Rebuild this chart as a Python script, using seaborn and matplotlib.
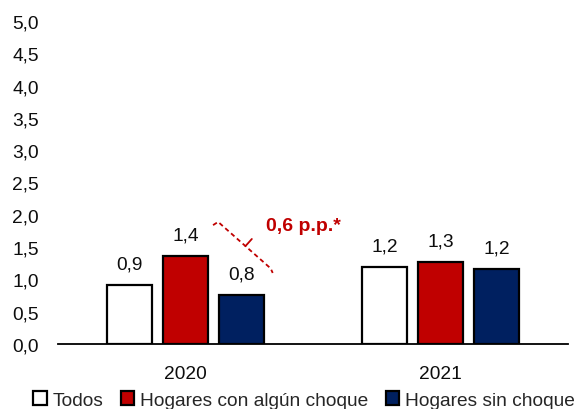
import matplotlib
matplotlib.use("Agg")
import matplotlib.pyplot as plt
import seaborn as sns
import pandas as pd

years = ["2020", "2021"]
groups = ["Todos", "Hogares con algún choque", "Hogares sin choque"]
todos = [0.91, 1.19]
con_choque = [1.36, 1.27]
sin_choque = [0.76, 1.16]
diff_label = "0,6 p.p.*"
yticks = [0.0, 0.5, 1.0, 1.5, 2.0, 2.5, 3.0, 3.5, 4.0, 4.5, 5.0]

rows = []
for g, vals in zip(groups, [todos, con_choque, sin_choque]):
    for y, v in zip(years, vals):
        rows.append({"Año": y, "Grupo": g, "Valor": v})
df = pd.DataFrame(rows)

sns.set_style("white")
plt.rcParams["font.family"] = ["Liberation Sans", "DejaVu Sans"]

fig = plt.figure(figsize=(5.76, 4.10), dpi=100)
ax = fig.add_axes([58/576, 65/410, 510/576, 323/410])

colors = ["#FFFFFF", "#C00000", "#002060"]
sns.barplot(data=df, x="Año", y="Valor", hue="Grupo", hue_order=groups,
            order=years, palette=colors, saturation=1, edgecolor="black",
            linewidth=1.6, width=0.66, gap=0.2, ax=ax, legend=True, errorbar=None)

fs = 13.8
tc = "#0d0d0d"
for cont in ax.containers:
    labels = [f"{b.get_height():.1f}".replace(".", ",") for b in cont]
    ax.bar_label(cont, labels=labels, padding=9, fontsize=fs, color=tc)

ax.set_ylim(0, 5.0)
ax.set_xlim(-0.5, 1.5)
ax.set_yticks(yticks)
ax.set_yticklabels([f"{t:.1f}".replace(".", ",") for t in yticks], fontsize=fs, color=tc)
ax.tick_params(axis="x", length=0, pad=15, labelsize=fs, labelcolor=tc)
ax.tick_params(axis="y", length=0, pad=14)
ax.set_xlabel("")
ax.set_ylabel("")
for s in ["left", "top", "right"]:
    ax.spines[s].set_visible(False)
ax.spines["bottom"].set_color("black")
ax.spines["bottom"].set_linewidth(1.3)

# bracket between red and navy bars of 2020
red_bar = ax.containers[1][0]
navy_bar = ax.containers[2][0]
x1 = red_bar.get_x() + red_bar.get_width() + 0.04
y1 = red_bar.get_height() + 0.53
x2 = navy_bar.get_x() + navy_bar.get_width() + 0.026
y2 = navy_bar.get_height() + 0.41
bc = "#C00000"
kw = dict(color=bc, lw=1.3, ls=(0, (2.5, 1.8)), clip_on=False)
ax.plot([x1 - 0.02, x1, x2, x2 + 0.008], [y1 - 0.05, y1, y2, y2 - 0.07], **kw)
xm = x1 + 0.52 * (x2 - x1)
ym = y1 + 0.52 * (y2 - y1)
ax.plot([xm, xm + 0.025], [ym, ym + 0.11], color=bc, lw=1.3, clip_on=False)
ax.text(x2 - 0.017, y1 - 0.06, diff_label, color=bc, fontsize=14, fontweight="bold",
        ha="left", va="center")

handles, labels = ax.get_legend_handles_labels()
ax.get_legend().remove()
fig.legend(handles, labels, loc="center", bbox_to_anchor=(304/576, 1 - 401/410),
           ncol=3, frameon=False, fontsize=fs, handlelength=0.72, handleheight=0.72,
           handletextpad=0.3, columnspacing=0.9, borderaxespad=0, borderpad=0)

fig.savefig("out.png", dpi=100, facecolor="white")
